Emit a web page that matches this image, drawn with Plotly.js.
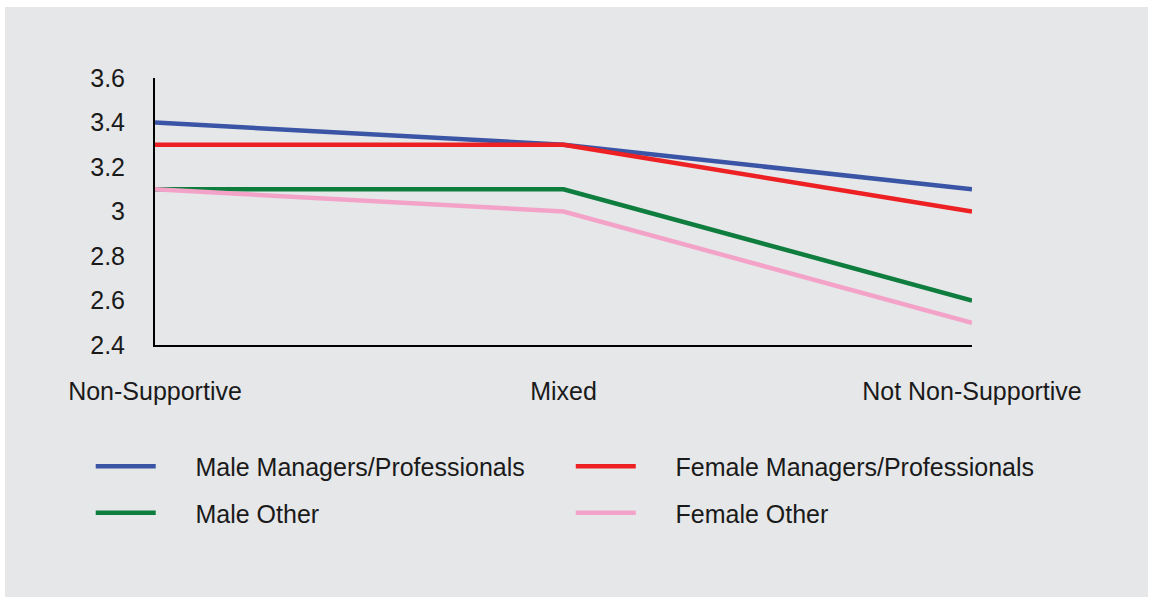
<!DOCTYPE html>
<html>
<head>
<meta charset="utf-8">
<script src="https://cdn.plot.ly/plotly-3.0.1.min.js"></script>
<style>
html,body{margin:0;padding:0;background:#ffffff;width:1151px;height:599px;overflow:hidden;}
#chart{position:absolute;left:5px;top:7px;width:1143px;height:590px;}
</style>
</head>
<body>
<div id="chart"></div>
<script>
const categories = ["Non-Supportive", "Mixed", "Not Non-Supportive"];
const maleManagers = [3.4, 3.3, 3.1];
const femaleManagers = [3.3, 3.3, 3.0];
const maleOther = [3.1, 3.1, 2.6];
const femaleOther = [3.1, 3.0, 2.5];
const seriesNames = ["Male Managers/Professionals", "Female Managers/Professionals", "Male Other", "Female Other"];
const xIdx = [0, 1, 2];

const font = {family: "Liberation Sans, Arial, sans-serif", size: 25, color: "#1a1a1a"};
const pad = "\u00a0\u00a0\u00a0\u00a0\u00a0";

function tr(y, name, color, legend, group, rank) {
  return {x: xIdx, y: y, name: pad + name, type: "scatter", mode: "lines",
    line: {color: color, width: 4.5}, legend: legend, legendgroup: group, legendrank: rank, hoverinfo: "skip"};
}

const data = [
  tr(maleOther, seriesNames[2], "#0e7d3e", "legend", "g2", 2),
  tr(femaleOther, seriesNames[3], "#f4a3c8", "legend2", "g4", 2),
  tr(maleManagers, seriesNames[0], "#3a55a5", "legend", "g1", 1),
  tr(femaleManagers, seriesNames[1], "#ed2024", "legend2", "g3", 1)
];

const legendBase = {orientation: "v", font: font, bgcolor: "rgba(0,0,0,0)",
  tracegroupgap: 11, traceorder: "grouped", itemwidth: 60, xref: "container", yref: "container",
  xanchor: "left", yanchor: "top"};

const layout = {
  width: 1143, height: 590,
  paper_bgcolor: "#e6e7e9", plot_bgcolor: "#e6e7e9",
  margin: {l: 150, r: 176, t: 71, b: 252, autoexpand: false},
  font: font,
  showlegend: true,
  legend: Object.assign({}, legendBase, {x: 0.075, y: 0.26}),
  legend2: Object.assign({}, legendBase, {x: 0.495, y: 0.26}),
  xaxis: {range: [0, 2], tickvals: xIdx, ticktext: categories, showgrid: false, zeroline: false,
    showline: true, linecolor: "#000", linewidth: 2, ticks: "", ticklabelstandoff: 23, tickangle: 0,
    automargin: false, fixedrange: true},
  yaxis: {range: [2.4, 3.6], dtick: 0.2, tick0: 2.4, showgrid: false, zeroline: false,
    showline: true, linecolor: "#000", linewidth: 2, ticks: "", ticklabelstandoff: 23,
    automargin: false, fixedrange: true}
};

Plotly.newPlot("chart", data, layout, {displayModeBar: false, staticPlot: true});
</script>
</body>
</html>
